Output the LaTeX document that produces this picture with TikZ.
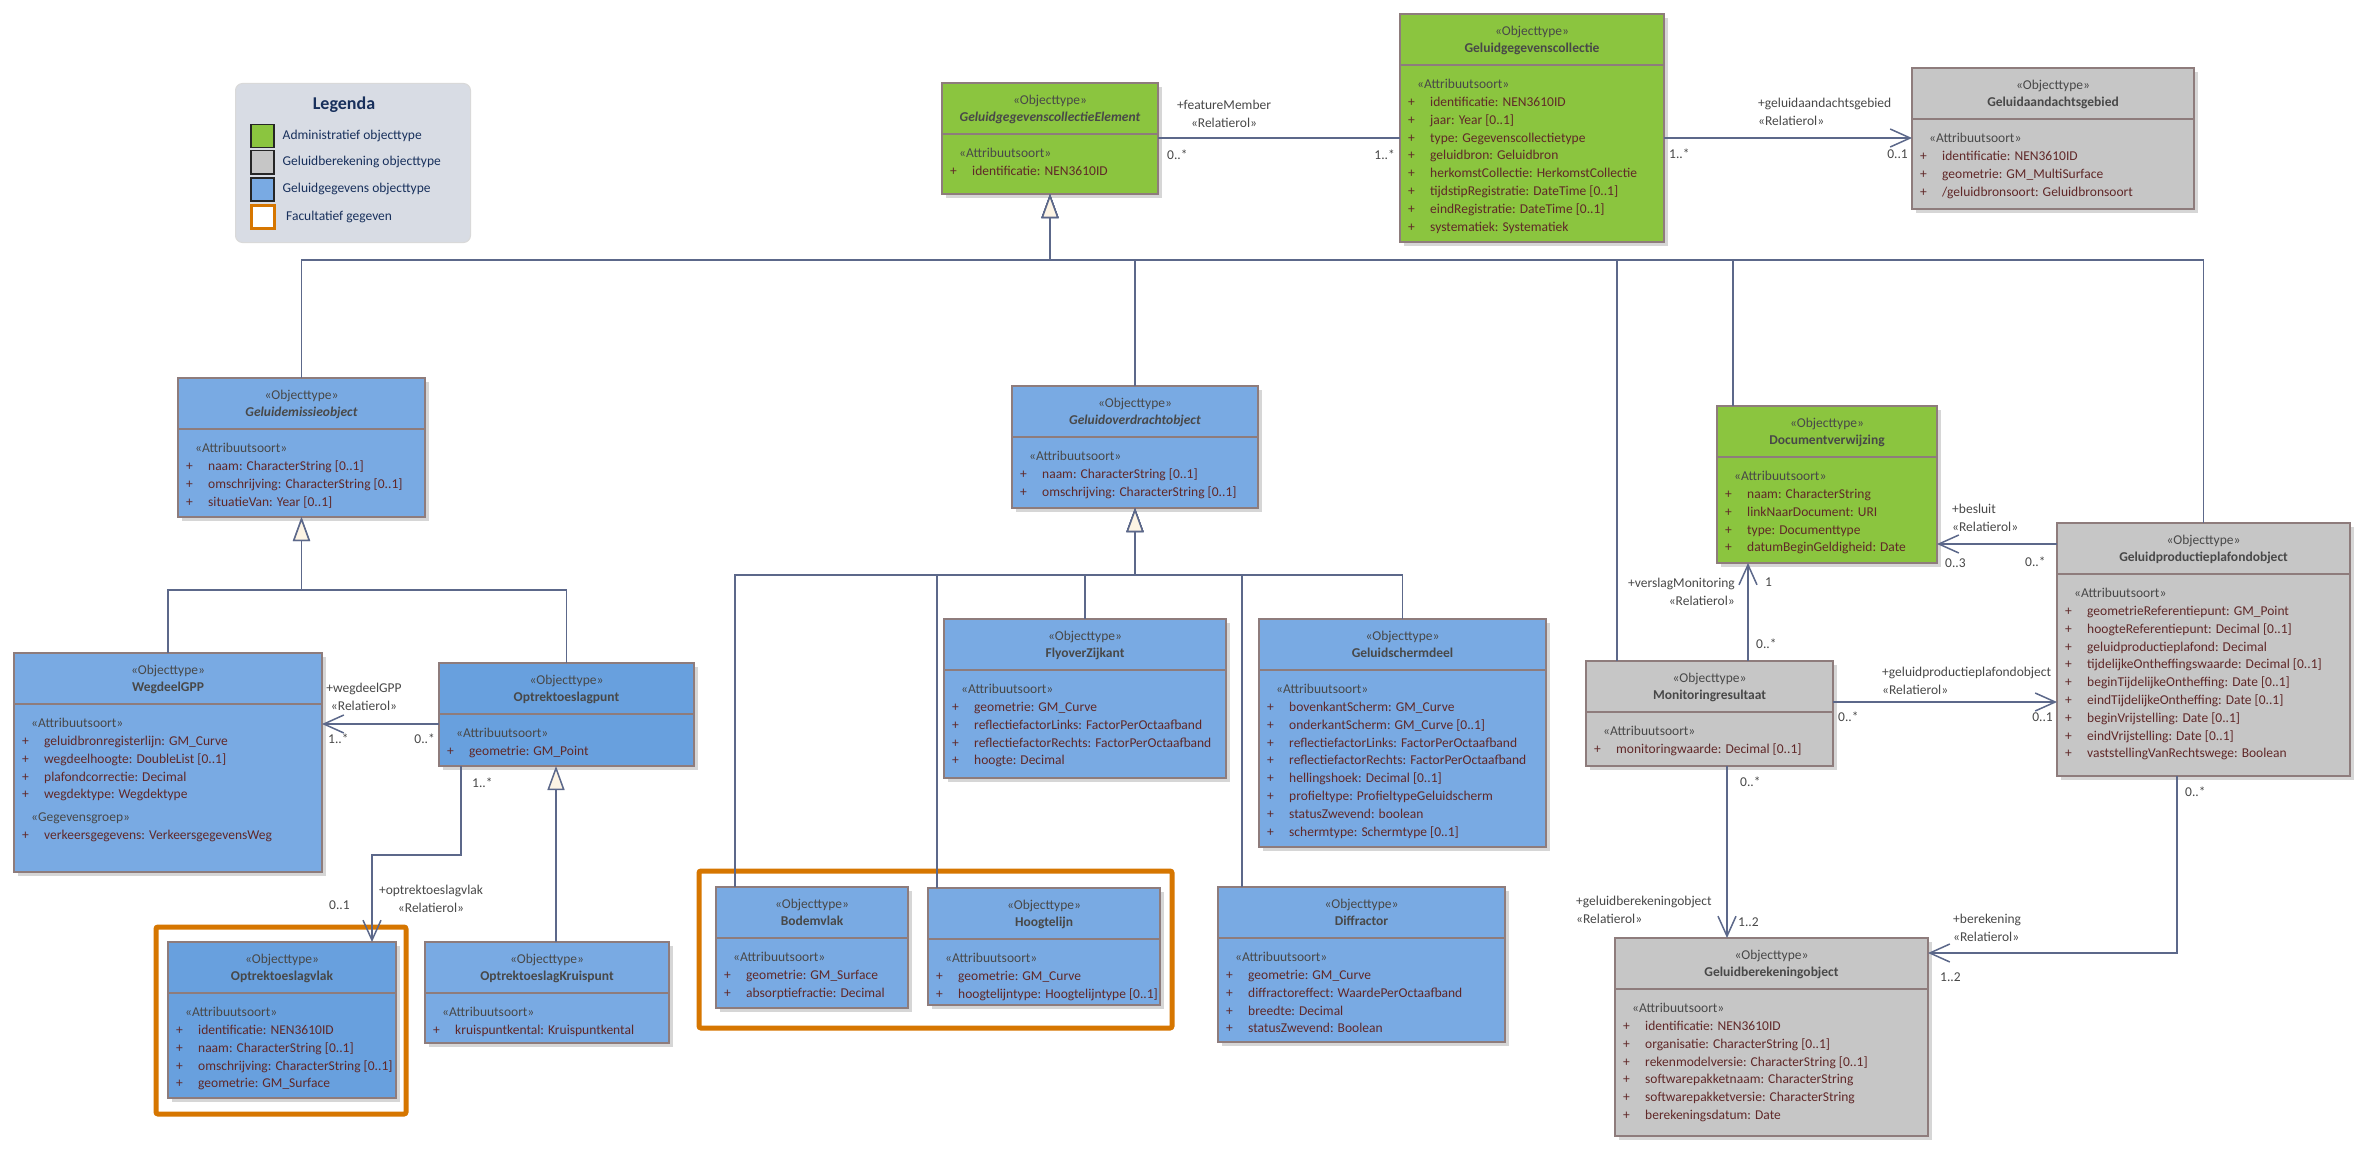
\documentclass[tikz,border=0pt]{standalone}
\usepackage{fontspec}
\setmainfont{Carlito}
\usetikzlibrary{positioning,calc,arrows.meta,shadows}

\definecolor{admingroen}{RGB}{139,197,63}
\definecolor{rekengrijs}{RGB}{198,198,198}
\definecolor{gegevensblauw}{RGB}{121,170,227}
\definecolor{puntblauw}{RGB}{104,160,222}
\definecolor{randkleur}{RGB}{142,124,124}
\definecolor{lijnkleur}{RGB}{92,104,138}
\definecolor{attrkleur}{RGB}{96,40,40}
\definecolor{tekstgrijs}{RGB}{72,72,72}
\definecolor{oranje}{RGB}{214,118,0}
\definecolor{legendagrond}{RGB}{216,220,228}
\definecolor{legendablauw}{RGB}{24,48,92}
\definecolor{creme}{RGB}{253,244,228}

\tikzset{
  klasse/.style={draw=randkleur, line width=2pt, anchor=north west, inner sep=0pt, outer sep=0pt,
    drop shadow={shadow xshift=4pt, shadow yshift=-4pt, fill=black!16, opacity=1}},
  admin/.style={klasse, fill=admingroen},
  reken/.style={klasse, fill=rekengrijs},
  gegevens/.style={klasse, fill=gegevensblauw},
  punt/.style={klasse, fill=puntblauw},
  kop/.style={anchor=north, align=center, inner sep=0pt, text=tekstgrijs, font=\fontsize{13.5}{17.5}\selectfont},
  attrs/.style={anchor=north west, align=left, inner sep=0pt, text=attrkleur},
  deler/.style={draw=randkleur, line width=1.5pt},
  lijn/.style={draw=lijnkleur, line width=1.5pt},
  assoc/.style={lijn, -{Straight Barb[length=20pt,width=18pt]}},
  gen/.style={lijn, -{Triangle[length=24pt,width=17pt,fill=creme]}},
  rol/.style={inner sep=0pt, text=tekstgrijs},
  facultatief/.style={draw=oranje, line width=5pt, rounded corners=2pt},
  legendavlak/.style={anchor=north west, minimum width=235pt, minimum height=159pt, inner sep=0pt,
    rounded corners=7pt, fill=legendagrond, draw=black!15, line width=1pt},
  staal/.style={anchor=north west, minimum width=23pt, minimum height=23pt, inner sep=0pt,
    draw=black!85, line width=1.5pt},
  legendatekst/.style={inner sep=0pt, text=legendablauw},
}

\newcommand{\kenmerk}[1]{\makebox[22pt][l]{+}#1}
\newcommand{\soort}[1]{\strut\hspace*{9pt}{\color{tekstgrijs}«#1»}}
% naam, stijl, positie, breedte, hoogte, kop, kenmerken
\newcommand{\klasse}[7]{%
  \node[#2, minimum width=#4pt, minimum height=#5pt] (#1) at #3 {};
  \draw[deler] ([yshift=-51pt]#1.north west) -- ([yshift=-51pt]#1.north east);
  \node[kop] (#1-kop) at ([yshift=-9pt]#1.north) {\strut«Objecttype»\\#6};
  \node[attrs] (#1-attr) at ([shift={(8pt,-62pt)}]#1.north west) {\soort{Attribuutsoort}\\#7};
}

\begin{document}
\begin{tikzpicture}[x=1pt,y=-1pt,font=\fontsize{13.5}{17.8}\selectfont]
\useasboundingbox[fill=white] (0,0) rectangle (2372,1153);
%legenda
\node[legendavlak] (legenda) at (235,83) {};
\node[font=\bfseries\fontsize{18}{20}\selectfont, text=legendablauw] (legendatitel) at (344,105) {Legenda};
\node[staal, fill=admingroen] (staal1) at (250,124) {};
\node[staal, fill=rekengrijs] (staal2) at (250,150) {};
\node[staal, fill=gegevensblauw] (staal3) at (250,177) {};
\node[staal, fill=white, draw=oranje, line width=3pt] (staal4) at (250,204) {};
\node[legendatekst, right=8pt of staal1] (tekst1) {Administratief objecttype};
\node[legendatekst, right=8pt of staal2] (tekst2) {Geluidberekening objecttype};
\node[legendatekst, right=8pt of staal3] (tekst3) {Geluidgegevens objecttype};
\node[legendatekst, right=10pt of staal4] (tekst4) {Facultatief gegeven};

%facultatieve kaders
\draw[facultatief] (156,927) rectangle (406,1114);
\draw[facultatief] (699,871) rectangle (1172,1028);

%administratief
\klasse{element}{admin}{(942,83)}{216}{111}{\textbf{\textit{GeluidgegevenscollectieElement}}}
  {\kenmerk{identificatie: NEN3610ID}}
\klasse{collectie}{admin}{(1400,14)}{264}{228}{\textbf{Geluidgegevenscollectie}}
  {\kenmerk{identificatie: NEN3610ID}\\\kenmerk{jaar: Year [0..1]}\\\kenmerk{type: Gegevenscollectietype}\\
   \kenmerk{geluidbron: Geluidbron}\\\kenmerk{herkomstCollectie: HerkomstCollectie}\\
   \kenmerk{tijdstipRegistratie: DateTime [0..1]}\\\kenmerk{eindRegistratie: DateTime [0..1]}\\
   \kenmerk{systematiek: Systematiek}}
\klasse{document}{admin}{(1717,406)}{220}{157}{\textbf{Documentverwijzing}}
  {\kenmerk{naam: CharacterString}\\\kenmerk{linkNaarDocument: URI}\\\kenmerk{type: Documenttype}\\
   \kenmerk{datumBeginGeldigheid: Date}}

%geluidberekening
\klasse{gebied}{reken}{(1912,68)}{282}{141}{\textbf{Geluidaandachtsgebied}}
  {\kenmerk{identificatie: NEN3610ID}\\\kenmerk{geometrie: GM\_MultiSurface}\\
   \kenmerk{/geluidbronsoort: Geluidbronsoort}}
\klasse{plafond}{reken}{(2057,523)}{293}{253}{\textbf{Geluidproductieplafondobject}}
  {\kenmerk{geometrieReferentiepunt: GM\_Point}\\\kenmerk{hoogteReferentiepunt: Decimal [0..1]}\\
   \kenmerk{geluidproductieplafond: Decimal}\\\kenmerk{tijdelijkeOntheffingswaarde: Decimal [0..1]}\\
   \kenmerk{beginTijdelijkeOntheffing: Date [0..1]}\\\kenmerk{eindTijdelijkeOntheffing: Date [0..1]}\\
   \kenmerk{beginVrijstelling: Date [0..1]}\\\kenmerk{eindVrijstelling: Date [0..1]}\\
   \kenmerk{vaststellingVanRechtswege: Boolean}}
\klasse{monitoring}{reken}{(1586,661)}{247}{105}{\textbf{Monitoringresultaat}}
  {\kenmerk{monitoringwaarde: Decimal [0..1]}}
\klasse{berekening}{reken}{(1615,938)}{313}{198}{\textbf{Geluidberekeningobject}}
  {\kenmerk{identificatie: NEN3610ID}\\\kenmerk{organisatie: CharacterString [0..1]}\\
   \kenmerk{rekenmodelversie: CharacterString [0..1]}\\\kenmerk{softwarepakketnaam: CharacterString}\\
   \kenmerk{softwarepakketversie: CharacterString}\\\kenmerk{berekeningsdatum: Date}}

%geluidgegevens
\klasse{emissie}{gegevens}{(178,378)}{247}{139}{\textbf{\textit{Geluidemissieobject}}}
  {\kenmerk{naam: CharacterString [0..1]}\\\kenmerk{omschrijving: CharacterString [0..1]}\\
   \kenmerk{situatieVan: Year [0..1]}}
\klasse{overdracht}{gegevens}{(1012,386)}{246}{122}{\textbf{\textit{Geluidoverdrachtobject}}}
  {\kenmerk{naam: CharacterString [0..1]}\\\kenmerk{omschrijving: CharacterString [0..1]}}
\klasse{wegdeel}{gegevens}{(14,653)}{308}{219}{\textbf{WegdeelGPP}}
  {\kenmerk{geluidbronregisterlijn: GM\_Curve}\\\kenmerk{wegdeelhoogte: DoubleList [0..1]}\\
   \kenmerk{plafondcorrectie: Decimal}\\\kenmerk{wegdektype: Wegdektype}\\[5pt]
   \hspace*{9pt}{\color{tekstgrijs}«Gegevensgroep»}\\\kenmerk{verkeersgegevens: VerkeersgegevensWeg}}
\klasse{optrekpunt}{punt}{(439,663)}{255}{103}{\textbf{Optrektoeslagpunt}}
  {\kenmerk{geometrie: GM\_Point}}
\klasse{optrekvlak}{punt}{(168,942)}{228}{156}{\textbf{Optrektoeslagvlak}}
  {\kenmerk{identificatie: NEN3610ID}\\\kenmerk{naam: CharacterString [0..1]}\\
   \kenmerk{omschrijving: CharacterString [0..1]}\\\kenmerk{geometrie: GM\_Surface}}
\klasse{kruispunt}{gegevens}{(425,942)}{244}{101}{\textbf{OptrektoeslagKruispunt}}
  {\kenmerk{kruispuntkental: Kruispuntkental}}
\klasse{flyover}{gegevens}{(944,619)}{282}{159}{\textbf{FlyoverZijkant}}
  {\kenmerk{geometrie: GM\_Curve}\\\kenmerk{reflectiefactorLinks: FactorPerOctaafband}\\
   \kenmerk{reflectiefactorRechts: FactorPerOctaafband}\\\kenmerk{hoogte: Decimal}}
\klasse{scherm}{gegevens}{(1259,619)}{287}{228}{\textbf{Geluidschermdeel}}
  {\kenmerk{bovenkantScherm: GM\_Curve}\\\kenmerk{onderkantScherm: GM\_Curve [0..1]}\\
   \kenmerk{reflectiefactorLinks: FactorPerOctaafband}\\\kenmerk{reflectiefactorRechts: FactorPerOctaafband}\\
   \kenmerk{hellingshoek: Decimal [0..1]}\\\kenmerk{profieltype: ProfieltypeGeluidscherm}\\
   \kenmerk{statusZwevend: boolean}\\\kenmerk{schermtype: Schermtype [0..1]}}
\klasse{bodem}{gegevens}{(716,887)}{192}{121}{\textbf{Bodemvlak}}
  {\kenmerk{geometrie: GM\_Surface}\\\kenmerk{absorptiefractie: Decimal}}
\klasse{hoogte}{gegevens}{(928,888)}{232}{117}{\textbf{Hoogtelijn}}
  {\kenmerk{geometrie: GM\_Curve}\\\kenmerk{hoogtelijntype: Hoogtelijntype [0..1]}}
\klasse{diffractor}{gegevens}{(1218,887)}{287}{155}{\textbf{Diffractor}}
  {\kenmerk{geometrie: GM\_Curve}\\\kenmerk{diffractoreffect: WaardePerOctaafband}\\
   \kenmerk{breedte: Decimal}\\\kenmerk{statusZwevend: Boolean}}

%generalisaties
\coordinate (busboven) at (0,260);
\coordinate (busemissie) at (0,590);
\coordinate (busoverdracht) at (0,575);
\draw[gen] (emissie.north) |- (element.south |- busboven) -- (element.south);
\draw[gen] (overdracht.north) |- (element.south |- busboven) -- (element.south);
\draw[gen] ([xshift=31pt]monitoring.north west) |- (element.south |- busboven) -- (element.south);
\draw[gen] ([xshift=16pt]document.north west) |- (element.south |- busboven) -- (element.south);
\draw[gen] (plafond.north) |- (element.south |- busboven) -- (element.south);
\draw[gen] (wegdeel.north) |- (emissie.south |- busemissie) -- (emissie.south);
\draw[gen] (optrekpunt.north) |- (emissie.south |- busemissie) -- (emissie.south);
\draw[gen] ([xshift=19pt]bodem.north west) |- (overdracht.south |- busoverdracht) -- (overdracht.south);
\draw[gen] ([xshift=9pt]hoogte.north west) |- (overdracht.south |- busoverdracht) -- (overdracht.south);
\draw[gen] (flyover.north) |- (overdracht.south |- busoverdracht) -- (overdracht.south);
\draw[gen] ([xshift=24pt]diffractor.north west) |- (overdracht.south |- busoverdracht) -- (overdracht.south);
\draw[gen] (scherm.north) |- (overdracht.south |- busoverdracht) -- (overdracht.south);
\draw[gen] ([xshift=131pt]kruispunt.north west) -- ([xshift=131pt]kruispunt.north west |- optrekpunt.south);

%associaties
\coordinate (knik) at (0,855);
\draw[lijn] ([yshift=-55pt]element.north east) -- ([yshift=-124pt]collectie.north west);
\draw[assoc] ([yshift=-124pt]collectie.north east) -- ([yshift=-70pt]gebied.north west);
\draw[assoc] ([yshift=-21pt]plafond.north west) -- ([yshift=-138pt]document.north east);
\draw[assoc] ([yshift=-41pt]monitoring.north east) -- ([yshift=-179pt]plafond.north west);
\draw[assoc] ([xshift=162pt]monitoring.north west) -- ([xshift=31pt]document.south west);
\draw[assoc] ([xshift=141pt]monitoring.south west) -- ([xshift=112pt]berekening.north west);
\draw[assoc] ([xshift=120pt]plafond.south west) |- ([yshift=-15pt]berekening.north east);
\draw[assoc] ([yshift=-61pt]optrekpunt.north west) -- ([yshift=-71pt]wegdeel.north east);
\draw[assoc] ([xshift=22pt]optrekpunt.south west) -- ([xshift=22pt]optrekpunt.south west |- knik)
  -| ([xshift=204pt]optrekvlak.north west);

%rollen en multipliciteiten
\node[rol, align=center] (rol1) at (1224,113.5) {+featureMember\\«Relatierol»};
\node[rol, anchor=west] (m1a) at (1167,155) {0..*};
\node[rol, anchor=east] (m1b) at (1395,155) {1..*};
\node[rol, anchor=west, align=left] (rol2) at (1758,112) {+geluidaandachtsgebied\\«Relatierol»};
\node[rol, anchor=west] (m2a) at (1669,154) {1..*};
\node[rol, anchor=east] (m2b) at (1908,154) {0..1};
\node[rol, anchor=west, align=left] (rol3) at (1952,518) {+besluit\\«Relatierol»};
\node[rol, anchor=west] (m3a) at (1945,563) {0..3};
\node[rol, anchor=west] (m3b) at (2025,562) {0..*};
\node[rol, anchor=west, align=left] (rol4) at (1882,680.5) {+geluidproductieplafondobject\\«Relatierol»};
\node[rol, anchor=west] (m4a) at (1838,717) {0..*};
\node[rol, anchor=east] (m4b) at (2053,717) {0..1};
\node[rol, anchor=east, align=right] (rol5) at (1735,591.5) {+verslagMonitoring\\«Relatierol»};
\node[rol, anchor=west] (m5a) at (1765,582) {1};
\node[rol, anchor=west] (m5b) at (1756,644) {0..*};
\node[rol, anchor=west, align=left] (rol6) at (1576,910) {+geluidberekeningobject\\«Relatierol»};
\node[rol, anchor=west] (m6a) at (1738,922) {1..2};
\node[rol, anchor=west] (m6b) at (1740,782) {0..*};
\node[rol, anchor=west, align=left] (rol7) at (1953,928) {+berekening\\«Relatierol»};
\node[rol, anchor=west] (m7a) at (1940,977) {1..2};
\node[rol, anchor=west] (m7b) at (2185,792) {0..*};
\node[rol, align=center] (rol8) at (364,697) {+wegdeelGPP\\«Relatierol»};
\node[rol, anchor=west] (m8a) at (328,739) {1..*};
\node[rol, anchor=east] (m8b) at (435,739) {0..*};
\node[rol, align=center] (rol9) at (431,899) {+optrektoeslagvlak\\«Relatierol»};
\node[rol, anchor=west] (m9a) at (329,905) {0..1};
\node[rol, anchor=west] (m9b) at (472,783) {1..*};
\end{tikzpicture}
\end{document}
